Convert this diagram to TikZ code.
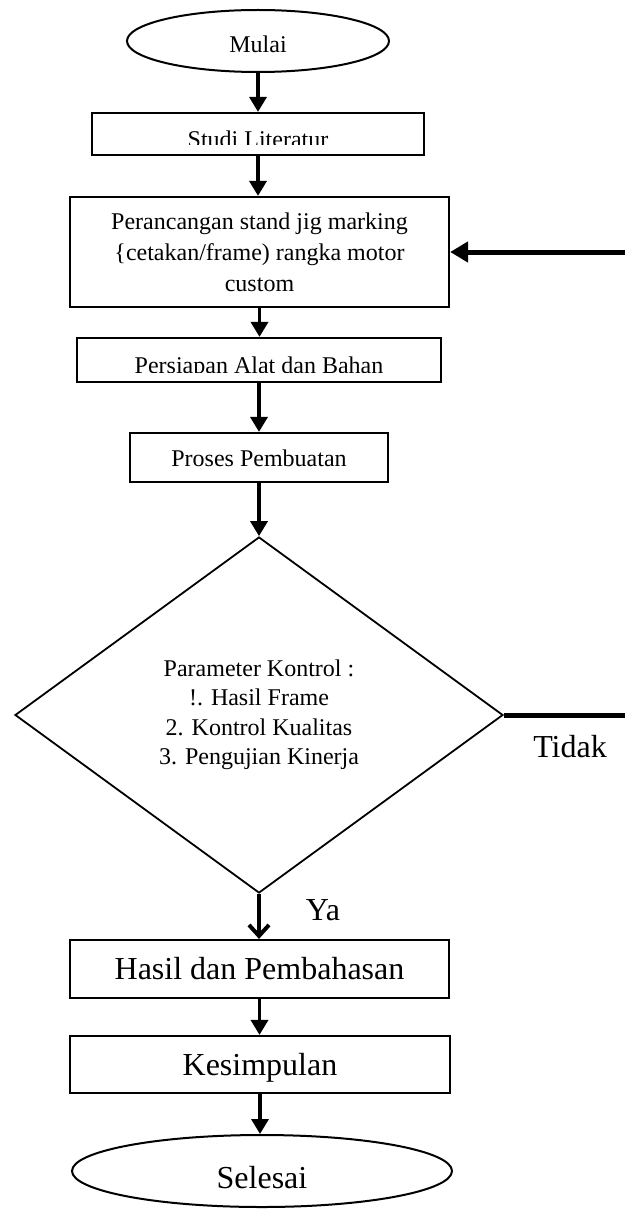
\documentclass[tikz,border=0pt]{standalone}
\usepackage{fontspec}
\setmainfont{Liberation Serif}
\usetikzlibrary{arrows.meta,shapes.geometric}
\begin{document}
\begin{tikzpicture}[x=1pt,y=-1pt,
  box/.style={draw, line width=2.2pt, rectangle, inner sep=0pt},
  term/.style={draw, line width=2pt, ellipse, inner sep=0pt},
  small/.style={font=\fontsize{24}{31}\selectfont},
  big/.style={font=\fontsize{32}{38}\selectfont},
  flow/.style={line width=3.5pt, -{Triangle[width=17pt,length=15pt]}},
  fback/.style={line width=5pt, -{Triangle[width=20pt,length=18pt]}},
  yesarrow/.style={line width=4.5pt, -{Straight Barb[width=20pt,length=11pt,line width=4pt]}},
]
\useasboundingbox (0,0) rectangle (625,1209);

% nodes
\node[term, small, minimum width=262pt, minimum height=62pt, text height=24pt, text depth=0pt] (mulai) at (258,41) {Mulai};

\node[box, minimum width=332pt, minimum height=42pt] (studi) at (258,134) {};
\begin{scope}
  \clip (studi.north west) rectangle ([yshift=12pt]studi.south east);
  \node[small, anchor=base, inner sep=0pt] (studitext) at (258,148) {Studi Literatur};
\end{scope}

\node[box, small, align=center, minimum width=379pt, minimum height=110pt] (peran) at (259.5,252)
  {Perancangan stand jig marking\\{\{}cetakan/frame) rangka motor\\custom};

\node[box, minimum width=364pt, minimum height=44pt] (persiapan) at (259,360) {};
\begin{scope}
  \clip (persiapan.north west) rectangle ([yshift=11pt]persiapan.south east);
  \node[small, anchor=base, inner sep=0pt] (persiapantext) at (259,373) {Persiapan Alat dan Bahan};
\end{scope}

\node[box, small, minimum width=258pt, minimum height=49pt, text height=20pt, text depth=2pt] (proses) at (259,457.5) {Proses Pembuatan};

\node[diamond, draw, line width=1.8pt, inner sep=0pt, minimum width=488pt, minimum height=356pt,
      align=center, font=\fontsize{24}{29.5}\selectfont] (dia) at (259,715)
  {Parameter Kontrol :\\!. Hasil Frame\\2. Kontrol Kualitas\\3. Pengujian Kinerja};

\node[box, big, minimum width=379pt, minimum height=58pt] (hasil) at (259.5,969) {Hasil dan Pembahasan};

\node[box, big, minimum width=380pt, minimum height=57pt, text height=26pt, text depth=4pt] (kesimpulan) at (260,1064.5) {Kesimpulan};

\node[term, big, minimum width=380pt, minimum height=72pt, text height=34pt, text depth=0pt] (selesai) at (262,1171) {Selesai};

\node[big] (tidak) at (570,747) {Tidak};
\node[big] (ya) at (323,910) {Ya};

\coordinate (fbstart) at (625,252);
\coordinate (noend) at (625,715);

% connectors
\draw[flow] (mulai.south) -- (mulai.south |- studi.north);
\draw[flow] (studi.south) -- (studi.south |- peran.north);
\draw[flow] (peran.south) -- (peran.south |- persiapan.north);
\draw[flow] (persiapan.south) -- (persiapan.south |- proses.north);
\draw[flow] (proses.south) -- (proses.south |- dia.north);
\draw[yesarrow] (dia.south) -- (dia.south |- hasil.north);
\draw[flow] (hasil.south) -- (hasil.south |- kesimpulan.north);
\draw[flow] (kesimpulan.south) -- (kesimpulan.south |- selesai.north);
\draw[fback] (fbstart) -- (fbstart -| peran.east);
\draw[line width=5pt] (dia.east) -- (noend);
\end{tikzpicture}
\end{document}
